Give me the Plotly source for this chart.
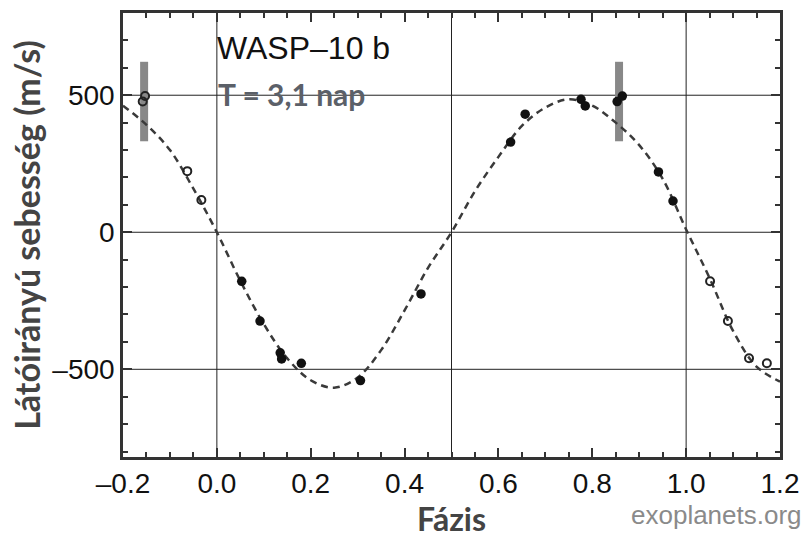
import plotly.graph_objects as go

# ---- data ----
# fitted model curve
curve_phase = [-0.20, -0.15, -0.10, -0.05, 0.00, 0.05, 0.10, 0.15, 0.20, 0.25, 0.30,
               0.35, 0.40, 0.45, 0.50, 0.55, 0.60, 0.65, 0.70, 0.75, 0.80, 0.85,
               0.90, 0.95, 1.00, 1.05, 1.10, 1.15, 1.20]
curve_rv = [462, 392, 300, 159, 0, -177, -335, -460, -540, -567, -530,
            -430, -285, -130, 0, 150, 275, 388, 455, 485, 462, 400,
            318, 195, 10, -167, -360, -490, -545]

# measured points inside phase 0..1 (filled)
obs_phase = [0.053, 0.092, 0.135, 0.138, 0.180, 0.306, 0.435,
             0.626, 0.657, 0.776, 0.785, 0.853, 0.864, 0.941, 0.972]
obs_rv = [-179, -324, -440, -462, -478, -541, -225,
          329, 431, 485, 461, 477, 497, 220, 114]

# repeated (phase-wrapped) points (open)
rep_phase = [-0.158, -0.153, -0.063, -0.033, 1.051, 1.089, 1.134, 1.172]
rep_rv = [477, 497, 223, 118, -179, -324, -460, -478]

# representative error bars
err_phase = [-0.155, 0.857]
err_rv = [477, 477]
err_size = [145, 145]

# axes
x_ticks = [-0.2, 0.0, 0.2, 0.4, 0.6, 0.8, 1.0, 1.2]
x_ticktext = ["\u20130.2", "0.0", "0.2", "0.4", "0.6", "0.8", "1.0", "1.2"]
y_ticks = [-500, 0, 500]
y_ticktext = ["\u2013500", "0", "500"]
grid_x = [0.0, 0.5, 1.0]
grid_y = [-500, 0, 500]

planet = "WASP\u201310 b"
period_label = "T = 3,1 nap"
x_title = "Fázis"
y_title = "Látóirányú sebesség (m/s)"
credit = "exoplanets.org"

fig = go.Figure()

# error bars
fig.add_trace(go.Scatter(
    x=err_phase, y=err_rv, mode="markers",
    marker=dict(size=1, color="rgba(0,0,0,0)"),
    error_y=dict(type="data", array=err_size, visible=True,
                 color="#888888", thickness=8, width=0),
    showlegend=False, hoverinfo="skip"))

# model curve
fig.add_trace(go.Scatter(
    x=curve_phase, y=curve_rv, mode="lines", line_shape="spline",
    line=dict(color="#3a3a3a", width=2.5, dash="7px,5px"),
    showlegend=False))

fig.add_trace(go.Scatter(
    x=obs_phase, y=obs_rv, mode="markers",
    marker=dict(symbol="circle", size=9.5, color="#111111"),
    showlegend=False))

fig.add_trace(go.Scatter(
    x=rep_phase, y=rep_rv, mode="markers",
    marker=dict(symbol="circle-open", size=8, color="#222222", line=dict(width=2)),
    showlegend=False))

for gx in grid_x:
    fig.add_shape(type="line", xref="x", yref="paper", x0=gx, x1=gx, y0=0, y1=1,
                  line=dict(color="#222222", width=1), layer="below")
for gy in grid_y:
    fig.add_shape(type="line", xref="paper", yref="y", x0=0, x1=1, y0=gy, y1=gy,
                  line=dict(color="#222222", width=1), layer="below")

fig.add_annotation(text=planet, xref="paper", yref="paper", x=0.140, y=0.922,
                   xanchor="left", yanchor="middle", showarrow=False,
                   font=dict(family="Liberation Sans, Arial", size=32, color="#111111"))
fig.add_annotation(text="<b>" + period_label + "</b>", xref="paper", yref="paper",
                   x=0.141, y=0.818, xanchor="left", yanchor="middle", showarrow=False,
                   font=dict(family="Lato", size=30, color="#5b6068"))
fig.add_annotation(text=credit, xref="paper", yref="paper", x=1.037, y=-0.13,
                   xanchor="right", yanchor="middle", showarrow=False,
                   font=dict(family="Liberation Sans, Arial", size=26, color="#8a8a8a"))

fig.update_layout(
    width=809, height=539,
    margin=dict(l=123, r=28, t=10, b=81),
    paper_bgcolor="white", plot_bgcolor="white",
    font=dict(family="Liberation Sans, Arial", color="#111111"),
    xaxis=dict(range=[-0.2, 1.2], tickvals=x_ticks, ticktext=x_ticktext,
               ticks="inside", ticklen=9, tickwidth=2, tickcolor="#333333",
               showline=True, linewidth=2.5, linecolor="#333333", mirror="ticks",
               showgrid=False, zeroline=False,
               tickfont=dict(size=28, color="#111111"),
               minor=dict(dtick=0.05, tick0=0, ticks="inside", ticklen=5,
                          tickwidth=1.5, tickcolor="#333333", showgrid=False),
               title=dict(text="<b>" + x_title + "</b>", standoff=7,
                          font=dict(family="Lato", size=32, color="#444444"))),
    yaxis=dict(range=[-820, 800], tickvals=y_ticks, ticktext=y_ticktext,
               ticks="inside", ticklen=9, tickwidth=2, tickcolor="#333333",
               showline=True, linewidth=2.5, linecolor="#333333", mirror="ticks",
               showgrid=False, zeroline=False,
               tickfont=dict(size=28, color="#111111"),
               minor=dict(dtick=100, tick0=0, ticks="inside", ticklen=5,
                          tickwidth=1.5, tickcolor="#333333", showgrid=False),
               title=dict(text="<b>" + y_title + "</b>", standoff=2,
                          font=dict(family="Lato", size=34, color="#444444"))),
)

fig.write_html("out.html")
